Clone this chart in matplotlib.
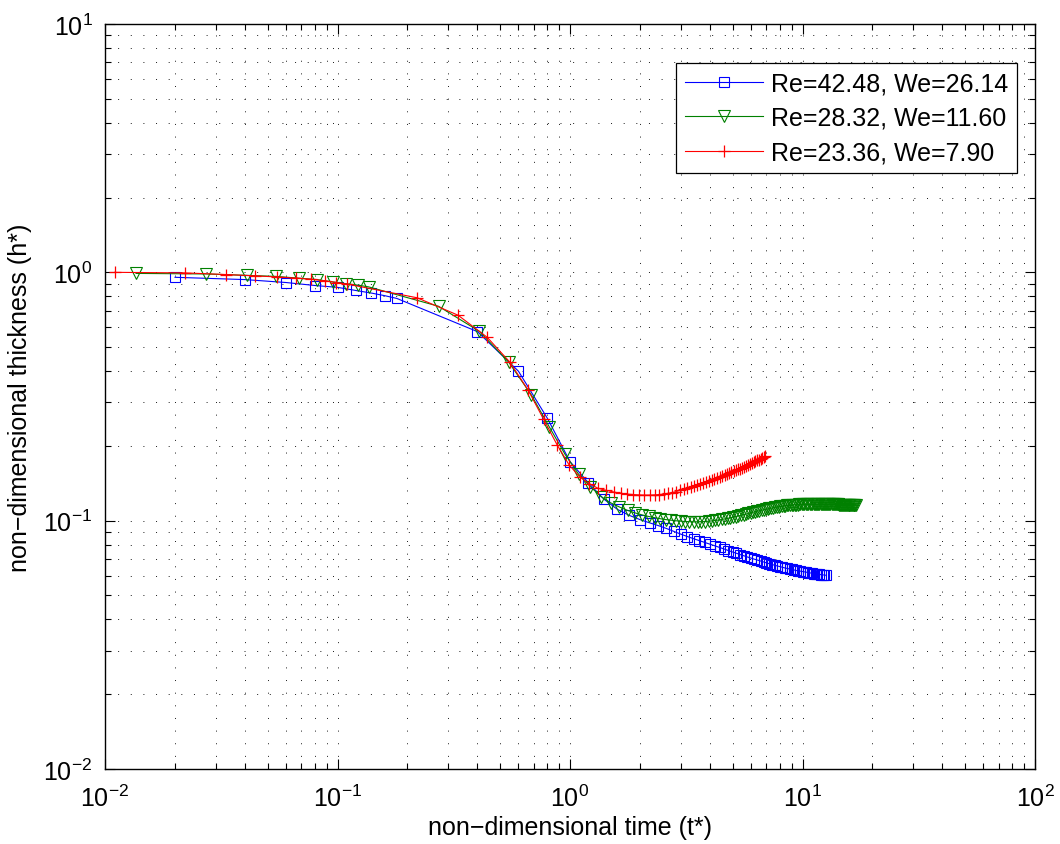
import matplotlib.pyplot as plt

plt.rcParams['font.family'] = ['Liberation Sans', 'DejaVu Sans']
plt.rcParams['mathtext.fontset'] = 'custom'
plt.rcParams['mathtext.rm'] = 'Liberation Sans'
plt.rcParams['mathtext.it'] = 'Liberation Sans:italic'
plt.rcParams['mathtext.default'] = 'regular'

# Re=42.48, We=26.14
t_blue = [0.02, 0.04, 0.06, 0.08, 0.10, 0.12, 0.14, 0.16, 0.18,
          0.4, 0.6, 0.8, 1.0, 1.2, 1.4, 1.6, 1.8,
          2.0, 2.2, 2.4, 2.6, 2.8, 3.0, 3.2, 3.4, 3.6, 3.8,
          4.0, 4.2, 4.4, 4.6, 4.8, 5.0, 5.2, 5.4, 5.6, 5.8,
          6.0, 6.2, 6.4, 6.6, 6.8, 7.0, 7.2, 7.4, 7.6, 7.8,
          8.0, 8.2, 8.4, 8.6, 8.8, 9.0, 9.2, 9.4, 9.6, 9.8,
          10.0, 10.2, 10.4, 10.6, 10.8, 11.0, 11.2, 11.4, 11.6, 11.8,
          12.0, 12.2, 12.4, 12.6]
h_blue = [0.955, 0.935, 0.91, 0.885, 0.87, 0.845, 0.825, 0.805, 0.785,
          0.577, 0.40, 0.258, 0.173, 0.142, 0.122, 0.111, 0.105,
          0.101, 0.098, 0.0955, 0.093, 0.0905, 0.0882, 0.0863, 0.0846, 0.0831, 0.0817,
          0.0804, 0.0792, 0.0780, 0.0769, 0.0758, 0.0748, 0.0739, 0.0730, 0.0722, 0.0714,
          0.0707, 0.0700, 0.0694, 0.0688, 0.0682, 0.0676, 0.0671, 0.0666, 0.0661, 0.0657,
          0.0653, 0.0649, 0.0645, 0.0642, 0.0639, 0.0636, 0.0633, 0.0630, 0.0628, 0.0626,
          0.0624, 0.0622, 0.0620, 0.0618, 0.0616, 0.0614, 0.0612, 0.0611, 0.0609, 0.0608,
          0.0606, 0.0605, 0.0604, 0.0603]

# Re=28.32, We=11.60
t_green = [0.0136, 0.0272, 0.0408, 0.0544, 0.068, 0.0816, 0.0952, 0.1088, 0.1224,
           0.136, 0.272, 0.408, 0.544, 0.68, 0.816, 0.952, 1.088, 1.224, 1.36,
           1.496, 1.632, 1.768, 1.904, 2.04, 2.176, 2.312, 2.448, 2.584, 2.72,
           2.856, 2.992, 3.128, 3.264, 3.4, 3.536, 3.672, 3.808, 3.944, 4.08,
           4.216, 4.352, 4.488, 4.624, 4.76, 4.896, 5.032, 5.168, 5.304, 5.44,
           5.576, 5.712, 5.848, 5.984, 6.12, 6.256, 6.392, 6.528, 6.664, 6.8,
           6.936, 7.072, 7.208, 7.344, 7.48, 7.616, 7.752, 7.888, 8.024, 8.16,
           8.296, 8.432, 8.568, 8.704, 8.84, 8.976, 9.112, 9.248, 9.384, 9.52,
           9.656, 9.792, 9.928, 10.064, 10.2, 10.336, 10.472, 10.608, 10.744, 10.88,
           11.016, 11.152, 11.288, 11.424, 11.56, 11.696, 11.832, 11.968, 12.104, 12.24,
           12.376, 12.512, 12.648, 12.784, 12.92, 13.056, 13.192, 13.328, 13.464, 13.6,
           13.736, 13.872, 14.008, 14.144, 14.28, 14.416, 14.552, 14.688, 14.824, 14.96,
           15.096, 15.232, 15.368, 15.504, 15.64, 15.776, 15.912, 16.048, 16.184, 16.32,
           16.456, 16.592, 16.728, 16.864, 17.0]
h_green = [0.99, 0.985, 0.972, 0.963, 0.948, 0.935, 0.915, 0.90, 0.888,
           0.874, 0.730, 0.578, 0.436, 0.322, 0.238, 0.185, 0.154, 0.137, 0.125,
           0.118, 0.1135, 0.110, 0.1075, 0.1055, 0.104, 0.1028, 0.1018, 0.1010, 0.1004,
           0.0999, 0.0995, 0.0992, 0.0990, 0.0989, 0.0989, 0.0990, 0.0992, 0.0995, 0.0998,
           0.1002, 0.1006, 0.1011, 0.1016, 0.1021, 0.1027, 0.1033, 0.1039, 0.1045, 0.1051,
           0.1057, 0.1063, 0.1069, 0.1075, 0.1081, 0.1087, 0.1092, 0.1097, 0.1102, 0.1107,
           0.1112, 0.1116, 0.1120, 0.1124, 0.1128, 0.1132, 0.1135, 0.1138, 0.1141, 0.1144,
           0.1147, 0.1149, 0.1151, 0.1153, 0.1155, 0.1157, 0.1158, 0.1159, 0.1160, 0.1161,
           0.1162, 0.1163, 0.1163, 0.1164, 0.1164, 0.1164, 0.1164, 0.1164, 0.1164, 0.1164,
           0.1164, 0.1164, 0.1164, 0.1164, 0.1164, 0.1163, 0.1163, 0.1163, 0.1163, 0.1163,
           0.1163, 0.1163, 0.1163, 0.1163, 0.1163, 0.1162, 0.1162, 0.1162, 0.1162, 0.1162,
           0.1162, 0.1162, 0.1162, 0.1162, 0.1162, 0.1161, 0.1161, 0.1161, 0.1161, 0.1161,
           0.1161, 0.1161, 0.1161, 0.1161, 0.1161, 0.1160, 0.1160, 0.1160, 0.1160, 0.1160,
           0.1160, 0.1160, 0.1160, 0.1160, 0.1160]

# Re=23.36, We=7.90
t_red = [0.011, 0.022, 0.033, 0.044, 0.055, 0.066, 0.077, 0.088, 0.099,
         0.11, 0.22, 0.33, 0.44, 0.55, 0.66, 0.77, 0.88, 0.99, 1.10,
         1.21, 1.32, 1.43, 1.54, 1.65, 1.76, 1.87, 1.98, 2.09, 2.20,
         2.31, 2.42, 2.53, 2.64, 2.75, 2.86, 2.97, 3.08, 3.19, 3.30,
         3.41, 3.52, 3.63, 3.74, 3.85, 3.96, 4.07, 4.18, 4.29, 4.40,
         4.51, 4.62, 4.73, 4.84, 4.95, 5.06, 5.17, 5.28, 5.39, 5.50,
         5.61, 5.72, 5.83, 5.94, 6.05, 6.16, 6.27, 6.38, 6.49, 6.60,
         6.71, 6.82, 6.93]
h_red = [1.0, 0.995, 0.98, 0.968, 0.958, 0.948, 0.938, 0.925, 0.91,
         0.897, 0.79, 0.672, 0.548, 0.436, 0.336, 0.256, 0.202, 0.168, 0.150,
         0.141, 0.135, 0.1325, 0.1305, 0.129, 0.128, 0.1274, 0.127, 0.1268, 0.1268,
         0.1270, 0.1274, 0.1280, 0.1288, 0.1298, 0.1310, 0.1323, 0.1337, 0.1350, 0.1363,
         0.1376, 0.1389, 0.1402, 0.1415, 0.1428, 0.1441, 0.1454, 0.1468, 0.1482, 0.1496,
         0.1510, 0.1524, 0.1538, 0.1552, 0.1566, 0.1580, 0.1594, 0.1608, 0.1622, 0.1636,
         0.1650, 0.1664, 0.1678, 0.1692, 0.1706, 0.1720, 0.1734, 0.1748, 0.1762, 0.1776,
         0.1790, 0.1804, 0.1818]

labels = ['Re=42.48, We=26.14', 'Re=28.32, We=11.60', 'Re=23.36, We=7.90']

fig = plt.figure(figsize=(10.6, 8.45), dpi=100)
ax = fig.add_axes([105/1060, 75/845, 930/1060, 745/845])

ax.loglog(t_blue, h_blue, '-s', color=(0, 0, 1), lw=0.8, ms=6.5, mfc='none', mew=0.8, label=labels[0])
ax.loglog(t_green, h_green, '-v', color=(0, 0.5, 0), lw=0.8, ms=8.5, mfc='none', mew=0.8, label=labels[1])
ax.loglog(t_red, h_red, '-+', color=(1, 0, 0), lw=0.8, ms=8, mew=0.9, label=labels[2])

ax.set_xlim(1e-2, 1e2)
ax.set_ylim(1e-2, 1e1)

ax.grid(True, which='both', color='0.1', linestyle=(0, (1, 12)), linewidth=0.7)
ax.tick_params(which='both', direction='in', top=True, right=True, width=0.8)
ax.tick_params(which='major', length=7, labelsize=18)
ax.tick_params(axis='x', which='major', pad=11)
ax.tick_params(axis='y', which='major', pad=9)
ax.tick_params(which='minor', length=4)
for s in ax.spines.values():
    s.set_linewidth(1.0)

ax.set_xlabel('non\u2212dimensional time (t*)', fontsize=18, labelpad=3)
ax.set_ylabel('non\u2212dimensional thickness (h*)', fontsize=18, labelpad=8)

leg = ax.legend(loc='upper right', bbox_to_anchor=(0.981, 0.948), borderaxespad=0,
                fontsize=18, fancybox=False, framealpha=1, edgecolor='k',
                handlelength=3.1, handletextpad=0.35, labelspacing=0.42, borderpad=0.35)
leg.get_frame().set_linewidth(0.9)

fig.savefig('out.png', dpi=100)
